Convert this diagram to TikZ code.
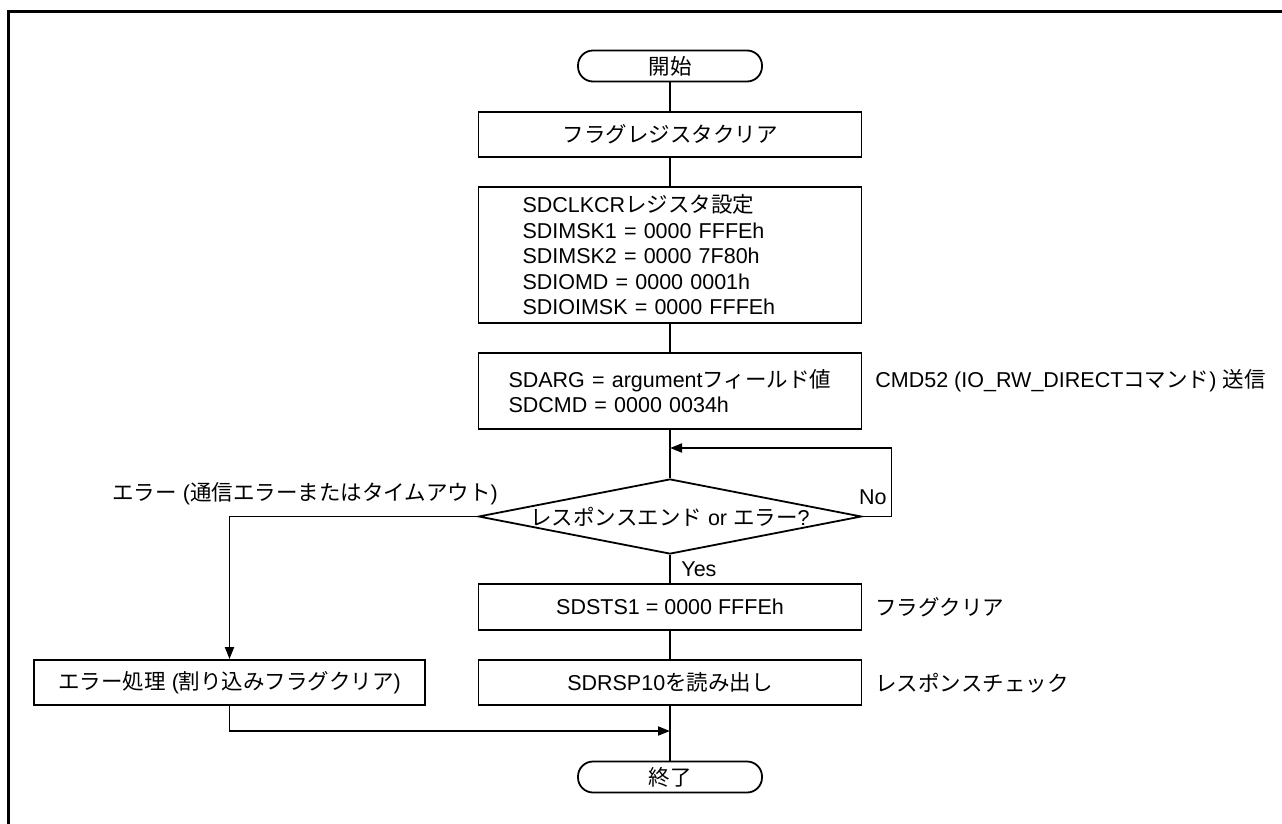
\documentclass[tikz,border=0pt]{standalone}
\usepackage{fontspec}
\setmainfont{Liberation Sans}
\newfontfamily\jp{Noto Sans CJK JP}
\usetikzlibrary{
    arrows.meta,
    shapes.geometric,
    positioning
}
\tikzset{
  every path/.style={
    black,
    line width=1.8pt
  },
  every node/.style={
    inner sep=1.5pt,
    font=\fontsize{21.5}{25.5}\selectfont
  },
  terminal/.style={
    draw,
    rectangle,
    rounded corners=15pt,
    minimum width=184pt,
    minimum height=31pt
  },
  process/.style={
    draw,
    rectangle,
    minimum width=383pt,
    minimum height=45pt
  },
  decision/.style={
    draw,
    diamond,
    inner sep=0pt,
    minimum width=383pt,
    minimum height=75pt
  },
  arr/.style={
    -{Triangle[length=12pt,width=9pt]}
  }
}

\begin{document}
\begin{tikzpicture}[x=1pt,y=-1pt]
    \useasboundingbox (0,0) rectangle (1282,824);
    % 外枠
    \draw[line width=3.4pt] (8.7,824) -- (8.7,11.7) -- (1282,11.7);

    % メインの流れ
    \node[terminal] (start) at (670,66) {\jp 開始};
    \node[process] (clr) at (670,134.5) {\jp フラグレジスタクリア};
    \node[process,minimum height=136pt,text width=295pt,inner xsep=44pt,align=left] (cfg) at (670,255)
        {SDCLKCR{\jp レジスタ設定}\\
         SDIMSK1 = 0000 FFFEh\\
         SDIMSK2 = 0000 7F80h\\
         SDIOMD = 0000 0001h\\
         SDIOIMSK = 0000 FFFEh};
    \node[process,minimum height=76pt,text width=323pt,inner xsep=30pt,align=left] (cmd) at (670,391)
        {SDARG~=~argument{\jp フィールド値}\\
         SDCMD = 0000 0034h};
    \node[decision] (dec) at (670,516.5)
        {\makebox[0pt]{{\jp レスポンスエンド} or {\jp エラー}?}};
    \node[process,minimum height=46pt] (sts) at (670,607) {SDSTS1 = 0000 FFFEh};
    \node[process] (rsp) at (670,682.5) {SDRSP10{\jp を読み出し}};
    \node[terminal] (end) at (670,777) {\jp 終了};

    % エラー側
    \node[process,minimum width=391pt] (err) at (229.5,682.5)
        {{\jp エラー処理} ({\jp 割り込みフラグクリア})};

    % 注記
    \node[anchor=west] (cmdnote) at (873,381)
        {CMD52 (IO\_RW\_DIRECT{\jp コマンド}) {\jp 送信}};
    \node[anchor=west] (stsnote) at (873,607) {\jp フラグクリア};
    \node[anchor=west] (rspnote) at (873,683) {\jp レスポンスチェック};
    \node[anchor=west] (errnote) at (110,494)
        {{\jp エラー} ({\jp 通信エラーまたはタイムアウト})};
    \node[anchor=east] (no) at (889,497) {No};
    \node[anchor=west] (yes) at (679,569) {Yes};

    \coordinate (loop) at (670,448);
    \coordinate (merge) at (670,731);

    \draw (start) -- (clr);
    \draw (clr) -- (cfg);
    \draw (cfg) -- (cmd);
    \draw (cmd) -- (dec);
    \draw[arr] (dec.east) -- ++(29,0) |- (loop);
    \draw[arr] (dec.west) -| (err.north);
    \draw (dec) -- (sts);
    \draw (sts) -- (rsp);
    \draw (rsp) -- (end);
    \draw[arr] (err.south) |- (merge);
\end{tikzpicture}
\end{document}
